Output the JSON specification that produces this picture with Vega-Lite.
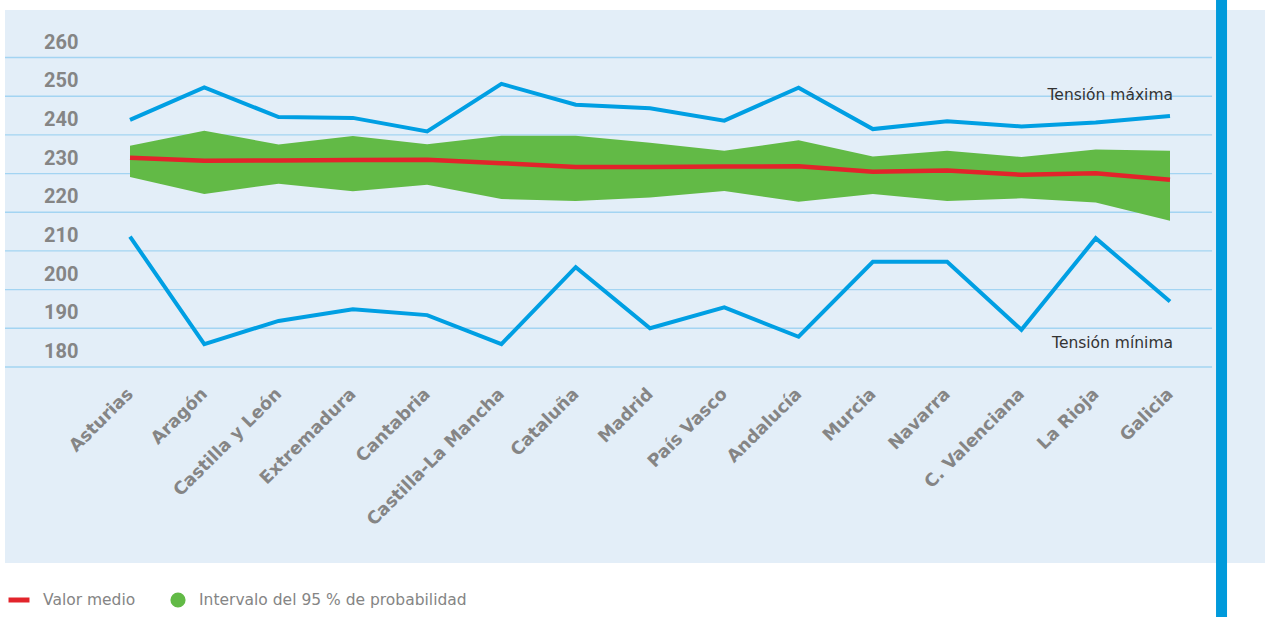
{
  "$schema": "https://vega.github.io/schema/vega-lite/v6.json",
  "width": 1260,
  "height": 553,
  "autosize": {"type": "none"},
  "padding": {"left": 5, "top": 10, "right": 0, "bottom": 54},
  "background": "#ffffff",
  "config": {"view": {"fill": "#E3EEF8", "stroke": null}, "font": "Roboto"},
  "datasets": {
    "regions": [
      {"region": "Asturias", "max": 243.9, "min": 213.7, "mean": 234.1, "lo": 229.1, "hi": 237.2},
      {"region": "Aragón", "max": 252.3, "min": 185.9, "mean": 233.3, "lo": 224.7, "hi": 241.1},
      {"region": "Castilla y León", "max": 244.6, "min": 191.9, "mean": 233.4, "lo": 227.4, "hi": 237.5},
      {"region": "Extremadura", "max": 244.4, "min": 194.9, "mean": 233.5, "lo": 225.4, "hi": 239.7},
      {"region": "Cantabria", "max": 240.9, "min": 193.4, "mean": 233.6, "lo": 227.1, "hi": 237.6},
      {"region": "Castilla-La Mancha", "max": 253.2, "min": 185.9, "mean": 232.7, "lo": 223.4, "hi": 239.8},
      {"region": "Cataluña", "max": 247.8, "min": 205.8, "mean": 231.7, "lo": 222.9, "hi": 239.8},
      {"region": "Madrid", "max": 246.9, "min": 190.0, "mean": 231.7, "lo": 223.8, "hi": 238.0},
      {"region": "País Vasco", "max": 243.7, "min": 195.4, "mean": 231.8, "lo": 225.5, "hi": 235.9},
      {"region": "Andalucía", "max": 252.2, "min": 187.8, "mean": 231.9, "lo": 222.7, "hi": 238.6},
      {"region": "Murcia", "max": 241.5, "min": 207.2, "mean": 230.5, "lo": 224.7, "hi": 234.4},
      {"region": "Navarra", "max": 243.5, "min": 207.2, "mean": 230.8, "lo": 222.9, "hi": 235.9},
      {"region": "C. Valenciana", "max": 242.2, "min": 189.6, "mean": 229.7, "lo": 223.6, "hi": 234.3},
      {"region": "La Rioja", "max": 243.2, "min": 213.3, "mean": 230.1, "lo": 222.5, "hi": 236.2},
      {"region": "Galicia", "max": 244.9, "min": 196.9, "mean": 228.4, "lo": 217.8, "hi": 235.9}
    ],
    "grid": [
      {"v": 180}, {"v": 190}, {"v": 200}, {"v": 210}, {"v": 220},
      {"v": 230}, {"v": 240}, {"v": 250}, {"v": 260}
    ],
    "labels": [
      {"region": "Galicia", "v": 250.2, "label": "Tensión máxima"},
      {"region": "Galicia", "v": 186.1, "label": "Tensión mínima"}
    ]
  },
  "resolve": {"scale": {"x": "independent"}},
  "layer": [
    {
      "data": {"name": "grid"},
      "layer": [
        {
          "mark": {"type": "rule", "color": "#A3D4F2", "strokeWidth": 1.4},
          "encoding": {
            "x": {"datum": 0, "type": "quantitative", "scale": {"domain": [0, 1], "nice": false, "zero": false}, "axis": null},
            "x2": {"datum": 0.958},
            "y": {"field": "v", "type": "quantitative", "scale": {"domain": [129.3, 272.3], "nice": false, "zero": false}, "axis": null}
          }
        },
        {
          "mark": {"type": "text", "align": "left", "baseline": "middle", "dy": -15, "fontSize": 20, "fontWeight": "bold", "color": "#858585", "font": "Roboto"},
          "encoding": {
            "x": {"datum": 0.031, "type": "quantitative", "scale": {"domain": [0, 1], "nice": false, "zero": false}, "axis": null},
            "y": {"field": "v", "type": "quantitative", "scale": {"domain": [129.3, 272.3], "nice": false, "zero": false}, "axis": null},
            "text": {"field": "v", "type": "quantitative"}
          }
        }
      ]
    },
    {
      "data": {"name": "regions"},
      "encoding": {
        "x": {
          "field": "region", "type": "nominal", "sort": null,
          "scale": {"type": "point", "range": [125, 1165], "padding": 0},
          "axis": {
            "title": null, "orient": "bottom", "offset": -196, "domain": false, "ticks": false,
            "labelAngle": -45, "labelAlign": "right", "labelBaseline": "middle", "labelPadding": 24,
            "labelFontSize": 17.5, "labelFontWeight": "bold", "labelColor": "#858585", "labelFont": "DejaVu Sans",
            "labelOverlap": false, "labelLimit": 0
          }
        }
      },
      "layer": [
        {
          "mark": {"type": "area", "opacity": 1},
          "encoding": {
            "y": {"field": "lo", "type": "quantitative", "scale": {"domain": [129.3, 272.3], "nice": false, "zero": false}, "axis": null},
            "y2": {"field": "hi"},
            "fill": {
              "datum": "Intervalo del 95 % de probabilidad", "type": "nominal",
              "scale": {"range": ["#62BA46"]},
              "legend": {
                "orient": "none", "legendX": 165, "legendY": 582, "title": null,
                "symbolType": "circle", "symbolSize": 230, "symbolOpacity": 1, "symbolStrokeWidth": 0,
                "labelFontSize": 15.5, "labelColor": "#858585", "labelFont": "DejaVu Sans", "labelOffset": 13, "labelLimit": 500
              }
            }
          }
        },
        {
          "mark": {"type": "line", "strokeWidth": 4.5},
          "encoding": {
            "y": {"field": "mean", "type": "quantitative", "scale": {"domain": [129.3, 272.3], "nice": false, "zero": false}, "axis": null},
            "stroke": {
              "datum": "Valor medio", "type": "nominal",
              "scale": {"range": ["#E2242B"]},
              "legend": {
                "orient": "none", "legendX": 1, "legendY": 577, "title": null,
                "symbolType": "stroke", "symbolStrokeWidth": 5, "symbolSize": 440,
                "labelFontSize": 15.5, "labelColor": "#858585", "labelFont": "DejaVu Sans", "labelOffset": 11, "labelLimit": 500
              }
            }
          }
        },
        {
          "mark": {"type": "line", "color": "#009FE3", "strokeWidth": 4},
          "encoding": {
            "y": {"field": "max", "type": "quantitative", "scale": {"domain": [129.3, 272.3], "nice": false, "zero": false}, "axis": null}
          }
        },
        {
          "mark": {"type": "line", "color": "#009FE3", "strokeWidth": 4},
          "encoding": {
            "y": {"field": "min", "type": "quantitative", "scale": {"domain": [129.3, 272.3], "nice": false, "zero": false}, "axis": null}
          }
        },
        {
          "data": {"name": "labels"},
          "mark": {"type": "text", "align": "right", "baseline": "middle", "dx": 3, "fontSize": 15.5, "color": "#333333", "font": "DejaVu Sans"},
          "encoding": {
            "y": {"field": "v", "type": "quantitative", "scale": {"domain": [129.3, 272.3], "nice": false, "zero": false}, "axis": null},
            "text": {"field": "label", "type": "nominal"}
          }
        }
      ]
    },
    {
      "data": {"values": [{"k": 1}]},
      "mark": {"type": "rule", "color": "#009ADB", "strokeWidth": 11},
      "encoding": {
        "x": {"datum": 0.9655, "type": "quantitative", "scale": {"domain": [0, 1], "nice": false, "zero": false}, "axis": null},
        "y": {"datum": 275, "type": "quantitative", "scale": {"domain": [129.3, 272.3], "nice": false, "zero": false}, "axis": null},
        "y2": {"datum": 115}
      }
    }
  ]
}
